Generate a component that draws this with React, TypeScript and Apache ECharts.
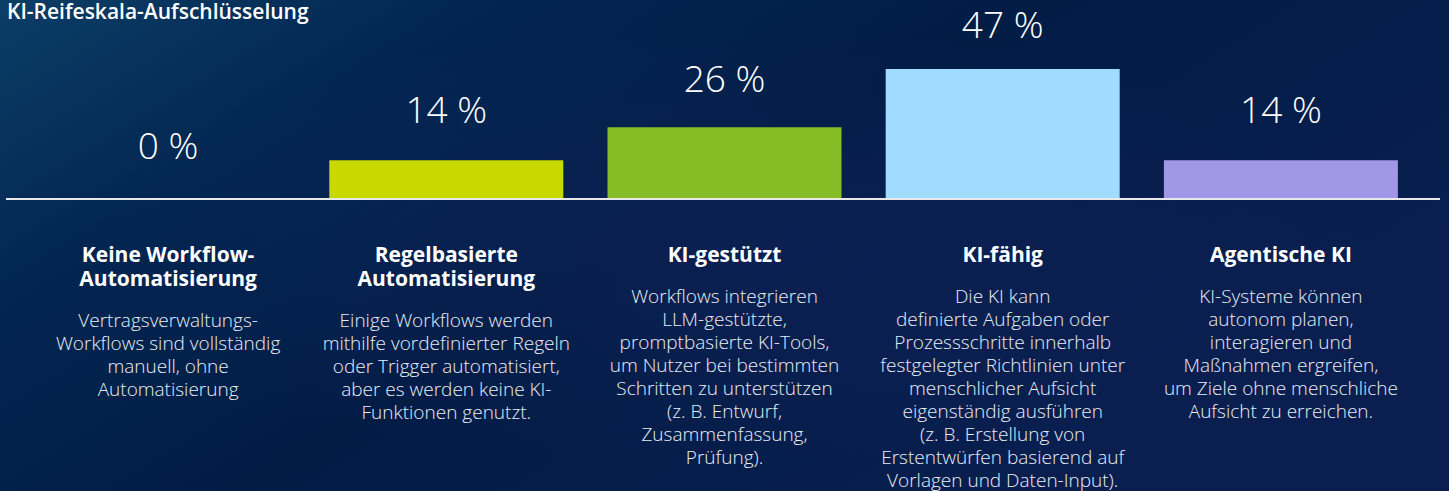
import React, { useEffect, useRef } from "react";
import * as echarts from "echarts";

const chartTitle = "KI-Reifeskala-Aufschlüsselung";
const categories = [
  "Keine Workflow-\nAutomatisierung",
  "Regelbasierte\nAutomatisierung",
  "KI-gestützt",
  "KI-fähig",
  "Agentische KI",
];
const descriptions = [
  "Vertragsverwaltungs-\nWorkflows sind vollständig\nmanuell, ohne\nAutomatisierung",
  "Einige Workflows werden\nmithilfe vordefinierter Regeln\noder Trigger automatisiert,\naber es werden keine KI-\nFunktionen genutzt.",
  "Workflows integrieren\nLLM-gestützte,\npromptbasierte KI-Tools,\num Nutzer bei bestimmten\nSchritten zu unterstützen\n(z. B. Entwurf,\nZusammenfassung,\nPrüfung).",
  "Die KI kann\ndefinierte Aufgaben oder\nProzessschritte innerhalb\nfestgelegter Richtlinien unter\nmenschlicher Aufsicht\neigenständig ausführen\n(z. B. Erstellung von\nErstentwürfen basierend auf\nVorlagen und Daten-Input).",
  "KI-Systeme können\nautonom planen,\ninteragieren und\nMaßnahmen ergreifen,\num Ziele ohne menschliche\nAufsicht zu erreichen.",
];
const values = [0, 14, 26, 47, 14];
const barColors = ["#c8d800", "#c8d800", "#86bc25", "#a0dcff", "#a197e6"];

export default function App() {
  const ref = useRef<HTMLDivElement>(null);

  useEffect(() => {
    document.body.style.margin = "0";
    if (!ref.current) return;
    const chart = echarts.init(ref.current, undefined, { renderer: "svg" });

    const option: any = {
      animation: false,
      backgroundColor: {
        type: "linear",
        x: 0,
        y: 0,
        x2: 1,
        y2: 0.55,
        colorStops: [
          { offset: 0, color: "#0b3e66" },
          { offset: 0.25, color: "#022651" },
          { offset: 0.55, color: "#011c45" },
          { offset: 1, color: "#0a1f50" },
        ],
      },
      title: {
        text: chartTitle,
        left: 7,
        top: 0,
        padding: 0,
        textStyle: {
          color: "#ffffff",
          fontFamily: "Open Sans",
          fontWeight: 600,
          fontSize: 21,
          lineHeight: 22,
        },
      },
      graphic: [
        {
          type: "rect",
          silent: true,
          z: -10,
          shape: { x: 0, y: 0, width: 1449, height: 491 },
          style: {
            fill: {
              type: "radial",
              x: 0.5,
              y: 0.5,
              r: 0.45,
              colorStops: [
                { offset: 0, color: "rgba(70,55,150,0.14)" },
                { offset: 1, color: "rgba(70,55,150,0)" },
              ],
            },
          },
        },
        {
          type: "line",
          silent: true,
          z: 100,
          shape: { x1: 6, y1: 199, x2: 1440, y2: 199 },
          style: { stroke: "#e8e8e8", lineWidth: 2 },
        },
      ],
      grid: { left: 29, right: 29, top: 0, bottom: 292, containLabel: false },
      xAxis: {
        type: "category",
        data: categories,
        axisLine: { show: false },
        axisTick: { show: false },
        axisLabel: {
          interval: 0,
          margin: 43,
          hideOverlap: false,
          formatter: (val: string, idx: number) => {
            const t = val
              .split("\n")
              .map((l) => `{t|${l}}`)
              .join("\n");
            const d = descriptions[idx]
              .split("\n")
              .map((l) => `{d|${l}}`)
              .join("\n");
            return `${t}\n{s| }\n${d}`;
          },
          rich: {
            t: {
              fontFamily: "Open Sans",
              fontWeight: 700,
              fontSize: 21,
              lineHeight: 24,
              color: "#ffffff",
              align: "center",
            },
            s: { fontSize: 2, lineHeight: 18 },
            d: {
              fontFamily: "Open Sans",
              fontWeight: 300,
              fontSize: 19,
              lineHeight: 23,
              color: "#e9eef6",
              align: "center",
            },
          },
        },
      },
      yAxis: {
        type: "value",
        min: 0,
        max: 72,
        show: false,
        splitLine: { show: false },
      },
      series: [
        {
          type: "bar",
          barWidth: 234,
          data: values.map((v, i) => ({
            value: v,
            itemStyle: { color: barColors[i] },
            label: { distance: 36 - 0.2 * v },
          })),
          label: {
            show: true,
            position: "top",
            formatter: (p: any) => `${p.value} %`,
            color: "#ffffff",
            fontFamily: "Open Sans",
            fontWeight: 300,
            fontSize: 37,
          },
        },
      ],
    };
    chart.setOption(option);
    return () => chart.dispose();
  }, []);

  return <div ref={ref} style={{ width: 1449, height: 491 }} />;
}
